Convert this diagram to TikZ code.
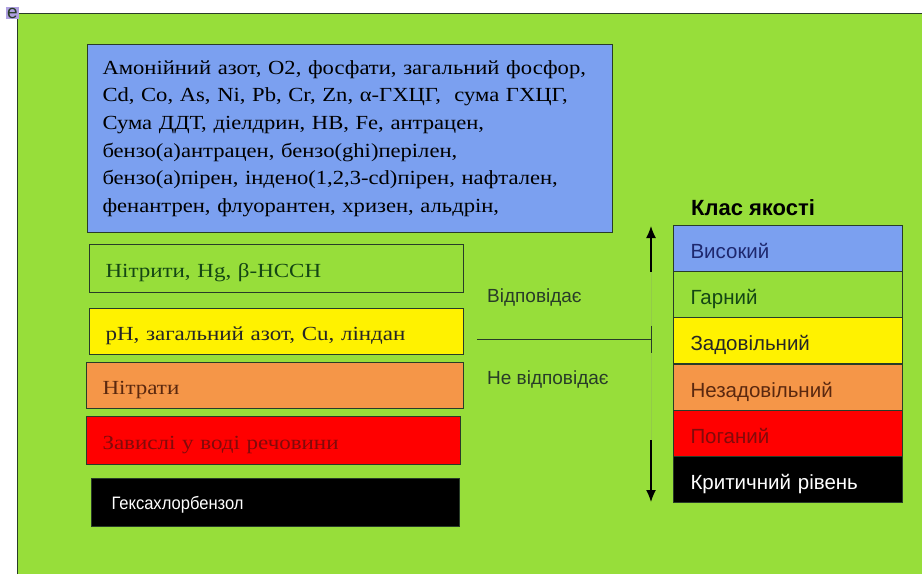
\documentclass[tikz,border=0pt]{standalone}
\usepackage{fontspec}
\setmainfont{Liberation Serif}
\setsansfont{Liberation Sans}
\newfontfamily\boxfont{Liberation Serif}[FakeStretch=1.13]
\newfontfamily\itemfont{Liberation Serif}[FakeStretch=1.15]
\newfontfamily\narrowsans{Liberation Sans}[FakeStretch=0.92]
\usetikzlibrary{positioning,arrows.meta}

\definecolor{qgreen}{RGB}{151,222,58}
\definecolor{qblue}{RGB}{123,160,240}
\definecolor{qorange}{RGB}{245,150,72}
\definecolor{qline}{RGB}{40,60,40}
\definecolor{tgreen}{RGB}{20,70,20}
\definecolor{tbrown}{RGB}{90,40,15}
\definecolor{tred}{RGB}{130,10,10}
\definecolor{tblue}{RGB}{30,40,110}
\definecolor{iconbg}{RGB}{175,160,225}

\begin{document}
\begin{tikzpicture}[x=1pt,y=-1pt,
    box/.style={draw=qline,line width=1pt,anchor=north west,inner xsep=16pt,
      align=left,text height=18pt,text depth=0pt,font=\itemfont\fontsize{20}{24}\selectfont},
    level/.style={draw=qline,line width=1pt,minimum width=229pt,minimum height=46pt,
      anchor=north west,inner xsep=17pt,text width=195pt,align=left,text height=20pt,text depth=0pt,
      font=\sffamily\fontsize{20.5}{24}\selectfont},
    note/.style={anchor=west,inner sep=0pt,font=\sffamily\fontsize{19}{22}\selectfont,text=qline}]
  \useasboundingbox (0,0) rectangle (922,574);
  \fill[qgreen] (17,13) rectangle (922,574);
  \draw[qline,line width=1pt] (17,574) -- (17,13) -- (922,13);
  \node[fill=iconbg,inner sep=1pt,anchor=base west,text height=10pt,text depth=0pt,
    font=\sffamily\fontsize{19}{19}\selectfont,text=qline] (icon) at (6,18) {e};

  % substances
  \node[box,fill=qblue,minimum width=525pt,minimum height=188pt,text width=495pt,inner xsep=15pt,
    text height=,text depth=,font=\boxfont\fontsize{20}{27.6}\selectfont] (all) at (87,44)
    {Амонійний азот, О2, фосфати, загальний фосфор,\\
     Cd, Co, As, Ni, Pb, Cr, Zn, α-ГХЦГ, \ сума ГХЦГ,\\
     Сума ДДТ, діелдрин, НВ, Fe, антрацен,\\
     бензо(а)антрацен, бензо(ghi)перілен,\\
     бензо(а)пірен, індено(1,2,3-cd)пірен, нафтален,\\
     фенантрен, флуорантен, хризен, альдрін,};
  \node[box,fill=qgreen,text=tgreen,minimum width=374pt,minimum height=48pt,text width=342pt] (nitrite) at (89,244)
    {Нітрити, Hg, β-HCCH};
  \node[box,fill=yellow,text=black!85,minimum width=374pt,minimum height=46pt,text width=342pt] (ph) at (89,308)
    {pH, загальний азот, Cu, ліндан};
  \node[box,fill=qorange,text=tbrown,minimum width=377pt,minimum height=46pt,text width=345pt] (nitrate) at (86,362)
    {Нітрати};
  \node[box,fill=red,text=tred,minimum width=374pt,minimum height=48pt,text width=342pt] (solids) at (86,416)
    {Завислі у воді речовини};
  \node[box,fill=black,text=white,minimum width=368pt,minimum height=48pt,text width=328pt,inner xsep=20pt,
    text height=14pt,font=\narrowsans\fontsize{18}{22}\selectfont] (hcb) at (91,478)
    {Гексахлорбензол};

  % quality classes
  \node[anchor=west,inner sep=0pt,font=\sffamily\bfseries\fontsize{22}{24}\selectfont] (title) at (691,208) {Клас якості};
  \node[level,fill=qblue,text=tblue] (high) at (673,225) {Високий};
  \node[level,fill=qgreen,text=tgreen] (good) at (673,271) {Гарний};
  \node[level,fill=yellow,text=black!85] (fair) at (673,317) {Задовільний};
  \node[level,fill=qorange,text=tbrown] (poor) at (673,364) {Незадовільний};
  \node[level,fill=red,text=tred] (bad) at (673,410) {Поганий};
  \node[level,fill=black,text=white] (crit) at (673,456) {Критичний рівень};

  % split line and arrows
  \coordinate (split) at (477,339);
  \coordinate (bar) at (652,339);
  \coordinate (uptail) at (651,272);
  \coordinate (uphead) at (651,226);
  \coordinate (downtail) at (651,440);
  \coordinate (downhead) at (651,502);
  \draw[qgreen!80!gray,line width=0.6pt] (uptail) -- (downtail);
  \draw[qline,line width=1pt,-{Bar[width=27pt]}] (split) -- (bar);
  \draw[black,line width=1.3pt,-{Latex[length=12pt,width=10pt]}] (uptail) -- (uphead);
  \draw[black,line width=1.3pt,-{Latex[length=12pt,width=10pt]}] (downtail) -- (downhead);
  \node[note] (yes) at (487,298) {Відповідає};
  \node[note] (no) at (487,380) {Не відповідає};
\end{tikzpicture}
\end{document}
